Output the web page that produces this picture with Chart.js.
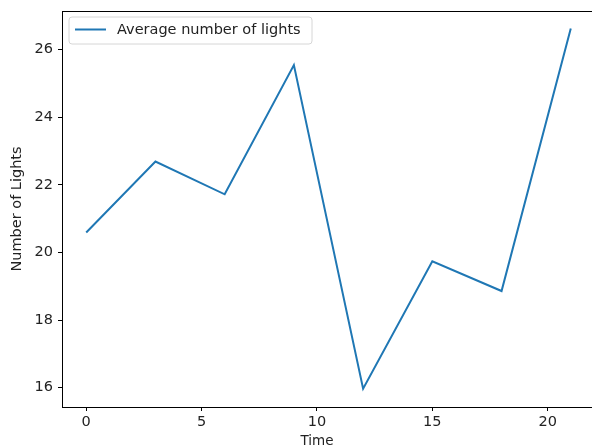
<!DOCTYPE html>
<html>
<head>
<meta charset="utf-8">
<script src="https://cdn.jsdelivr.net/npm/chart.js@4"></script>
<style>
  html, body { margin: 0; padding: 0; background: #fff; overflow: hidden; }
  #wrap { width: 592px; height: 447px; overflow: hidden; }
  canvas { display: block; }
</style>
</head>
<body>
<div id="wrap"><canvas id="c" width="640" height="447"></canvas></div>
<script>
// Sampled hours and the average number of lights on at each
const times = [0, 3, 6, 9, 12, 15, 18, 21];
const avgLights = [20.59, 22.69, 21.72, 25.54, 15.97, 19.74, 18.86, 26.62];
const xTicks = [0, 5, 10, 15, 20];
const yTicks = [16, 18, 20, 22, 24, 26];
const seriesLabel = 'Average number of lights';
const xTitle = 'Time';
const yTitle = 'Number of Lights';

const FONT = '"DejaVu Sans", sans-serif';
const FS = 14.5;
const LINE = '#1f77b4';

// Frame, axis titles and an in-plot legend box
const decor = {
  id: 'decor',
  afterDraw(chart) {
    const { ctx, chartArea: a } = chart;
    ctx.save();
    ctx.strokeStyle = '#000';
    ctx.lineWidth = 1;
    ctx.strokeRect(Math.round(a.left) + 0.5, Math.round(a.top) + 0.5,
                   Math.round(a.right - a.left), Math.round(a.bottom - a.top));

    ctx.fillStyle = '#222';
    ctx.font = '13.5px ' + FONT;
    ctx.textAlign = 'center';
    ctx.textBaseline = 'middle';
    ctx.fillText(xTitle, 317, 441);
    ctx.font = FS + 'px ' + FONT;
    ctx.save();
    ctx.translate(17, 209);
    ctx.rotate(-Math.PI / 2);
    ctx.fillText(yTitle, 0, 0);
    ctx.restore();

    // legend
    const lx = 69, ly = 17, lw = 243, lh = 27, r = 3;
    ctx.beginPath();
    ctx.moveTo(lx + r, ly);
    ctx.arcTo(lx + lw, ly, lx + lw, ly + lh, r);
    ctx.arcTo(lx + lw, ly + lh, lx, ly + lh, r);
    ctx.arcTo(lx, ly + lh, lx, ly, r);
    ctx.arcTo(lx, ly, lx + lw, ly, r);
    ctx.closePath();
    ctx.fillStyle = 'rgba(255,255,255,0.8)';
    ctx.fill();
    ctx.strokeStyle = '#d6d6d6';
    ctx.lineWidth = 1;
    ctx.stroke();

    ctx.beginPath();
    ctx.moveTo(75, 29.5);
    ctx.lineTo(106, 29.5);
    ctx.strokeStyle = LINE;
    ctx.lineWidth = 2;
    ctx.stroke();

    ctx.fillStyle = '#222';
    ctx.textAlign = 'left';
    ctx.font = FS + 'px ' + FONT;
    ctx.fillText(seriesLabel, 117, 30);
    ctx.restore();
  }
};

new Chart(document.getElementById('c'), {
  type: 'line',
  data: {
    datasets: [{
      label: seriesLabel,
      data: times.map((t, i) => ({ x: t, y: avgLights[i] })),
      borderColor: LINE,
      borderWidth: 2,
      pointRadius: 0,
      tension: 0,
      fill: false
    }]
  },
  options: {
    responsive: false,
    animation: false,
    devicePixelRatio: 1,
    layout: { padding: { top: 11, right: 45, bottom: 0, left: 0 } },
    plugins: { legend: { display: false }, tooltip: { enabled: false } },
    scales: {
      x: {
        type: 'linear',
        min: -1.05,
        max: 22.05,
        afterBuildTicks: s => { s.ticks = xTicks.map(v => ({ value: v })); },
        afterFit: s => { s.height = 40; s.paddingLeft = 0; s.paddingRight = 0; },
        grid: { drawOnChartArea: false, drawTicks: true, tickLength: 4, color: '#000', tickWidth: 1 },
        border: { display: true, color: '#000', width: 1 },
        ticks: { color: '#222', font: { family: FONT, size: FS }, padding: 3, maxRotation: 0 }
      },
      y: {
        type: 'linear',
        min: 15.43,
        max: 27.14,
        afterBuildTicks: s => { s.ticks = yTicks.map(v => ({ value: v })); },
        afterFit: s => { s.width = 62; s.paddingTop = 0; s.paddingBottom = 0; },
        grid: { drawOnChartArea: false, drawTicks: true, tickLength: 4, color: '#000', tickWidth: 1 },
        border: { display: true, color: '#000', width: 1 },
        ticks: { color: '#222', font: { family: FONT, size: FS }, padding: 5 }
      }
    }
  },
  plugins: [decor]
});
</script>
</body>
</html>
